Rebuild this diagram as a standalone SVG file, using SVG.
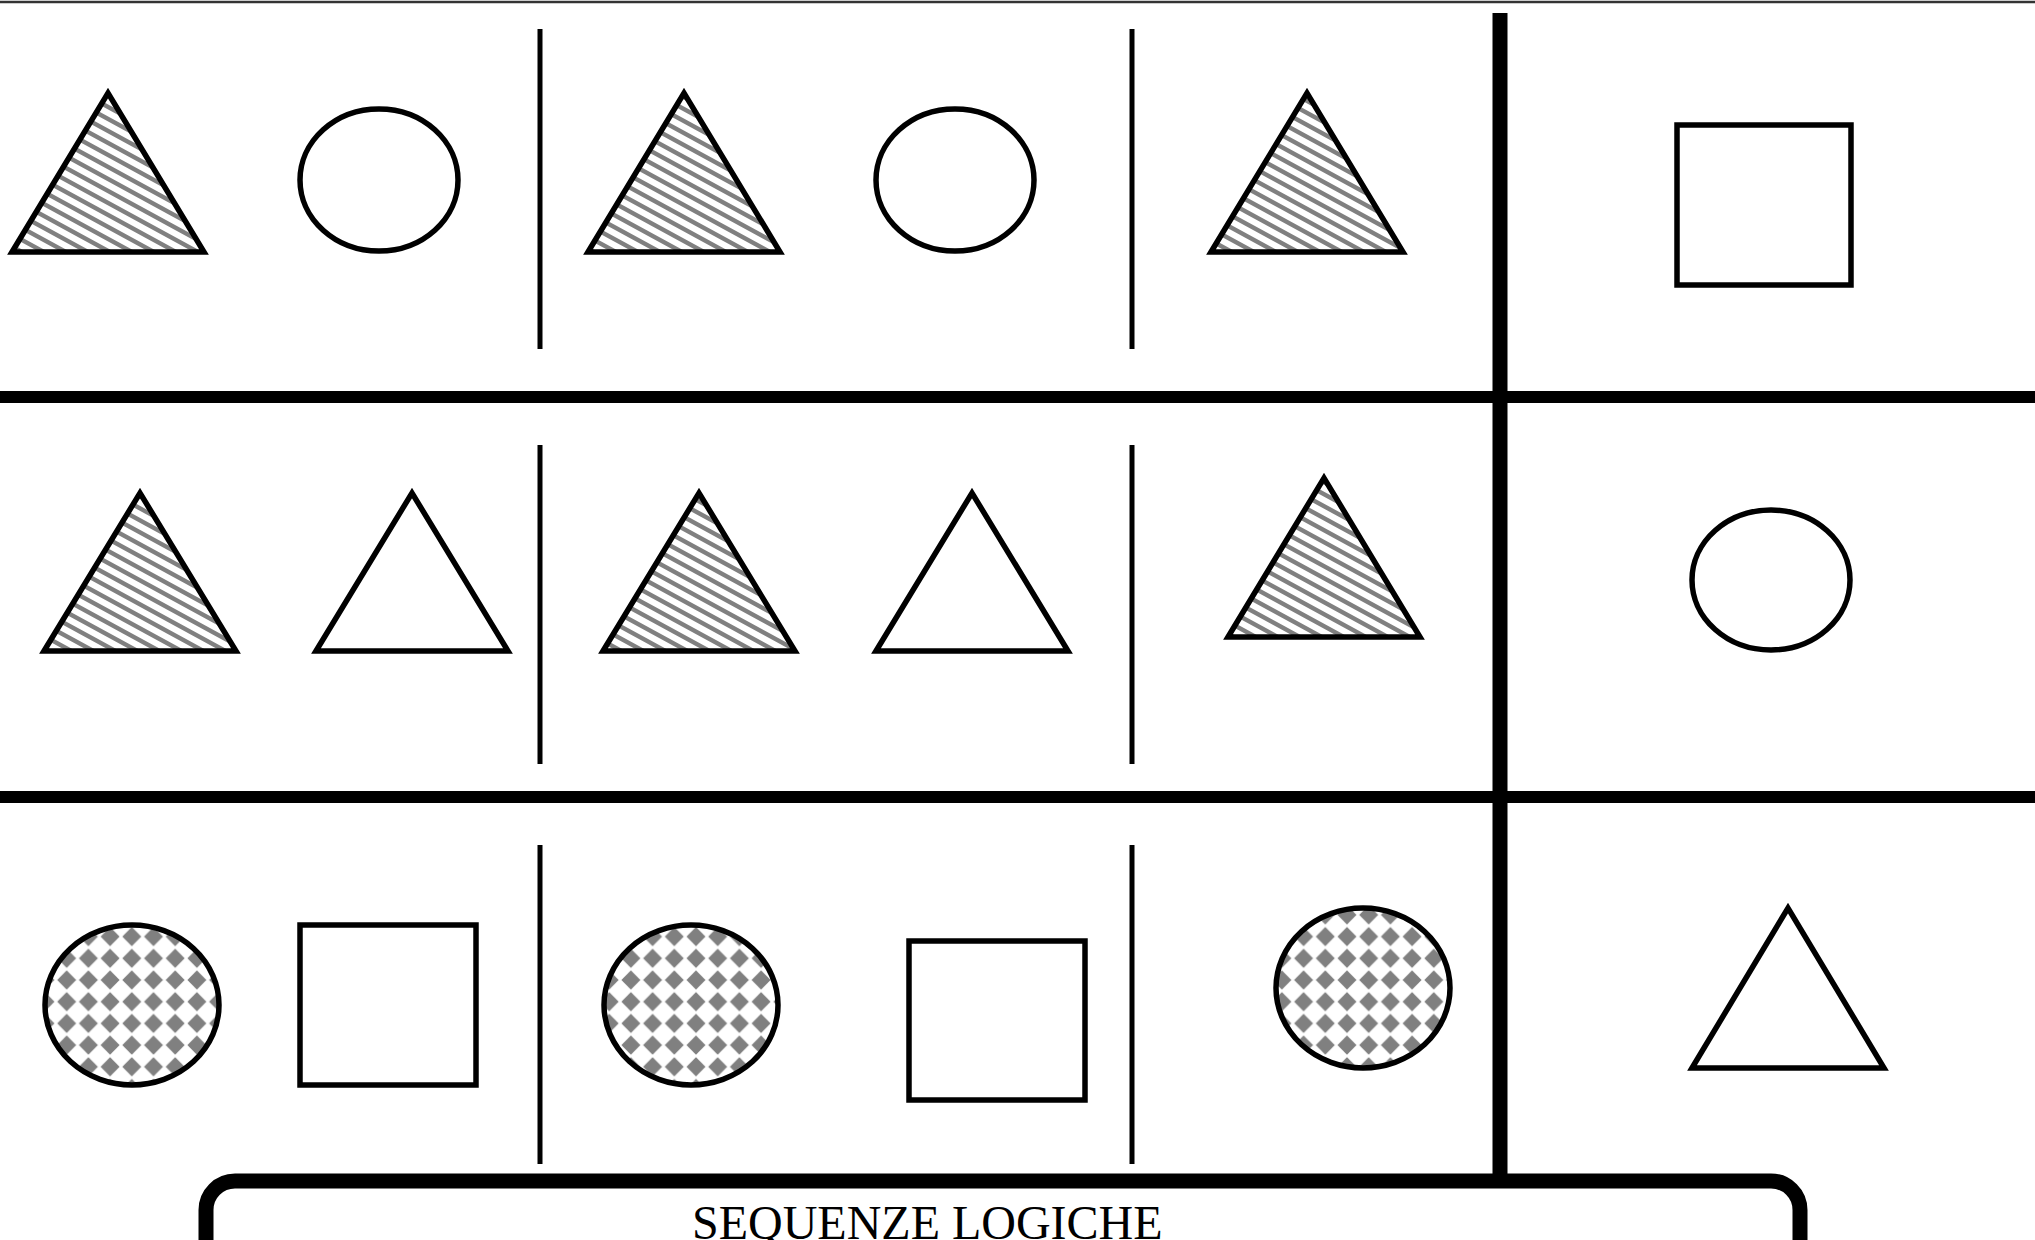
<svg xmlns="http://www.w3.org/2000/svg" width="2035" height="1240" viewBox="0 0 2035 1240">
<defs>
<pattern id="hatch" patternUnits="userSpaceOnUse" width="22" height="12">
<path d="M-4,-2.18 L26,14.18 M-4,9.82 L4,14.18 M18,-2.18 L26,2.18" stroke="#808080" stroke-width="4.4" fill="none"/>
</pattern>
<pattern id="dots" patternUnits="userSpaceOnUse" x="12.45" y="14.35" width="21.7" height="21.7">
<polygon points="10.85,1.35 20.35,10.85 10.85,20.35 1.35,10.85" fill="#808080"/>
</pattern>
</defs>
<style>
.sh{stroke:#000;stroke-width:5.5;fill:#fff}
.ht{stroke:#000;stroke-width:5.5;fill:url(#hatch)}
.dt{stroke:#000;stroke-width:5.5;fill:url(#dots)}
.thin{stroke:#000;stroke-width:5;fill:none}
.thick{stroke:#000;stroke-width:12;fill:none}
.vthick{stroke:#000;stroke-width:15;fill:none}
.lbl{font-family:"Liberation Serif","Times New Roman",serif;font-size:48px;fill:#000}
</style>
<rect x="0" y="0" width="2035" height="1240" fill="#fff"/>
<g id="grid">
<line x1="0" y1="2" x2="2035" y2="2" stroke="#333" stroke-width="2.5"/>
<line class="thick" x1="0" y1="397" x2="2035" y2="397"/>
<line class="thick" x1="0" y1="797" x2="2035" y2="797"/>
<line class="vthick" x1="1500" y1="13" x2="1500" y2="1178"/>
<line class="thin" x1="540" y1="29" x2="540" y2="349"/>
<line class="thin" x1="1132" y1="29" x2="1132" y2="349"/>
<line class="thin" x1="540" y1="445" x2="540" y2="764"/>
<line class="thin" x1="1132" y1="445" x2="1132" y2="764"/>
<line class="thin" x1="540" y1="845" x2="540" y2="1164"/>
<line class="thin" x1="1132" y1="845" x2="1132" y2="1164"/>
</g>
<g id="row1">
<polygon id="r1-t1" class="ht" points="12,252 108,93 204,252"/>
<ellipse id="r1-c1" class="sh" cx="379" cy="180" rx="79" ry="71"/>
<polygon id="r1-t2" class="ht" points="588,252 684,93 780,252"/>
<ellipse id="r1-c2" class="sh" cx="955" cy="180" rx="79" ry="71"/>
<polygon id="r1-t3" class="ht" points="1211,252 1307,93 1403,252"/>
<rect id="r1-ans" class="sh" x="1677" y="125" width="174" height="160"/>
</g>
<g id="row2">
<polygon id="r2-t1" class="ht" points="44,651 140,493 236,651"/>
<polygon id="r2-t2" class="sh" points="316,651 412,493 508,651"/>
<polygon id="r2-t3" class="ht" points="603,651 699,493 795,651"/>
<polygon id="r2-t4" class="sh" points="876,651 972,493 1068,651"/>
<polygon id="r2-t5" class="ht" points="1228,637 1324,478 1420,637"/>
<ellipse id="r2-ans" class="sh" cx="1771" cy="580" rx="79" ry="70"/>
</g>
<g id="row3">
<ellipse id="r3-c1" class="dt" cx="132" cy="1005" rx="87" ry="80"/>
<rect id="r3-s1" class="sh" x="300" y="925" width="176" height="160"/>
<ellipse id="r3-c2" class="dt" cx="691" cy="1005" rx="87" ry="80"/>
<rect id="r3-s2" class="sh" x="909" y="941" width="176" height="159"/>
<ellipse id="r3-c3" class="dt" cx="1363" cy="988" rx="87" ry="80"/>
<polygon id="r3-ans" class="sh" points="1692,1068 1788,908 1884,1068"/>
</g>
<g id="title">
<path class="vthick" d="M206,1260 L206,1210 A29,29 0 0 1 235,1181 L1771,1181 A29,29 0 0 1 1800,1210 L1800,1260"/>
<text class="lbl" x="692" y="1239">SEQUENZE LOGICHE</text>
</g>
</svg>
